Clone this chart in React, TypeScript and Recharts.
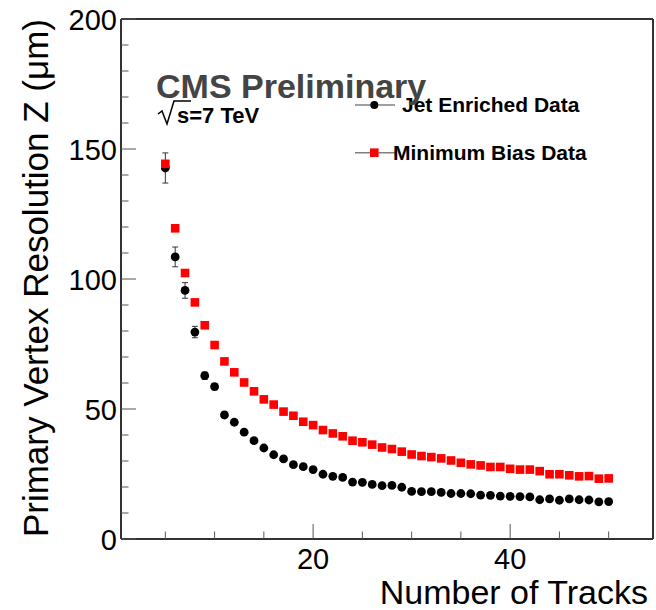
import { ScatterChart, Scatter, XAxis, YAxis, ErrorBar, Legend } from "recharts";

// number of tracks in the vertex fit
const tracks = [
  5, 6, 7, 8, 9, 10, 11, 12, 13, 14, 15, 16, 17, 18, 19, 20, 21, 22, 23, 24, 25, 26, 27,
  28, 29, 30, 31, 32, 33, 34, 35, 36, 37, 38, 39, 40, 41, 42, 43, 44, 45, 46, 47, 48, 49, 50,
];

// resolution in um
const jetResolution = [
  142.7, 108.5, 95.6, 79.6, 62.8, 58.6, 47.7, 44.9, 41.1, 37.8, 35.0, 32.4, 30.8, 28.6, 27.8,
  26.7, 24.9, 24.1, 23.7, 21.9, 21.8, 21.0, 20.5, 20.6, 19.9, 18.3, 18.2, 18.2, 17.9, 17.5,
  17.5, 17.4, 16.9, 16.8, 16.5, 16.4, 16.3, 16.2, 15.1, 15.4, 14.9, 15.4, 15.1, 15.0, 14.3, 14.4,
];
const jetError = [
  5.8, 3.8, 3.0, 2.2, 1.4, 1.2, 1.0, 0.9, 0.8, 0.8, 0.7, 0.7, 0.6, 0.6, 0.6, 0.6, 0.5, 0.5,
  0.5, 0.5, 0.5, 0.5, 0.5, 0.5, 0.5, 0.4, 0.4, 0.4, 0.4, 0.4, 0.4, 0.4, 0.4, 0.4, 0.4, 0.4,
  0.4, 0.4, 0.4, 0.4, 0.4, 0.4, 0.4, 0.4, 0.4, 0.4,
];
const minBiasResolution = [
  144.3, 119.5, 102.3, 91.0, 82.2, 74.6, 68.3, 64.1, 60.2, 56.8, 53.7, 51.7, 49.0, 47.4, 45.1,
  43.8, 41.9, 40.6, 39.5, 37.8, 37.2, 36.3, 35.2, 34.6, 33.6, 32.5, 31.9, 31.5, 31.0, 30.2,
  29.3, 28.7, 28.3, 27.7, 27.7, 27.0, 26.7, 26.7, 26.1, 24.9, 24.9, 24.5, 24.1, 24.2, 23.2, 23.3,
];

const xTicks = [5, 10, 15, 20, 25, 30, 35, 40, 45, 50];
const xLabelled = [20, 40];
const yTicks = [0, 10, 20, 30, 40, 50, 60, 70, 80, 90, 100, 110, 120, 130, 140, 150, 160, 170, 180, 190, 200];
const yLabelled = [0, 50, 100, 150, 200];

const jetData = tracks.map((n, i) => ({ x: n, y: jetResolution[i], err: jetError[i] }));
const minBiasData = tracks.map((n, i) => ({ x: n, y: minBiasResolution[i] }));

const FONT = "'Liberation Sans', Arial, Helvetica, sans-serif";
const TICK = "#555";
const FRAME = { stroke: "#333", strokeWidth: 2 };

function BottomTick({ x, y, payload }: any) {
  const major = xLabelled.includes(payload.value);
  return (
    <g>
      <line x1={x} x2={x} y1={y} y2={y - (major ? 15 : 7.5)} stroke={TICK} />
      {major && (
        <text x={x} y={y + 30} textAnchor="middle" fontSize={29} fontFamily={FONT} fill="#000">
          {payload.value}
        </text>
      )}
    </g>
  );
}

function TopTick({ x, y, payload }: any) {
  const major = xLabelled.includes(payload.value);
  return <line x1={x} x2={x} y1={y} y2={y + (major ? 15 : 7.5)} stroke={TICK} />;
}

function LeftTick({ x, y, payload }: any) {
  const major = yLabelled.includes(payload.value);
  return (
    <g>
      <line x1={x} x2={x + (major ? 15 : 7.5)} y1={y} y2={y} stroke={TICK} />
      {major && (
        <text x={x - 4} y={y + 10.5} textAnchor="end" fontSize={29} fontFamily={FONT} fill="#000">
          {payload.value}
        </text>
      )}
    </g>
  );
}

function RightTick({ x, y, payload }: any) {
  const major = yLabelled.includes(payload.value);
  return <line x1={x} x2={x - (major ? 15 : 7.5)} y1={y} y2={y} stroke={TICK} />;
}

const JetDot = (p: any) => <circle cx={p.cx} cy={p.cy} r={4.4} fill="#000" />;
const MinBiasSquare = (p: any) => (
  <rect x={p.cx - 4.3} y={p.cy - 4.3} width={8.6} height={8.6} fill="#ff0000" />
);

// legend rows, drawn ROOT style: marker on a short grey line
const legendRows = [
  { lineY: 20, textX: 52, textY: 27 },
  { lineY: 67.7, textX: 43, textY: 75 },
];

function renderLegend({ payload }: any) {
  return (
    <svg width={260} height={85}>
      {(payload || []).map((entry: any, i: number) => {
        const row = legendRows[i];
        if (!row) return null;
        return (
          <g key={entry.value}>
            <line x1={5} x2={45} y1={row.lineY} y2={row.lineY} stroke="#808080" strokeWidth={1.5} />
            {i === 0 ? (
              <circle cx={24.3} cy={row.lineY} r={4} fill="#000" />
            ) : (
              <rect x={20} y={row.lineY - 4.3} width={8.6} height={8.6} fill="#ff0000" />
            )}
            <text x={row.textX} y={row.textY} fontSize={21} fontWeight="bold" fontFamily={FONT} fill="#000">
              {entry.value}
            </text>
          </g>
        );
      })}
    </svg>
  );
}

export default function App() {
  return (
    <div style={{ position: "absolute", left: 0, top: 0, width: 656, height: 610, background: "#fff" }}>
      <ScatterChart width={656} height={610} margin={{ top: 0, right: 0, bottom: 0, left: 0 }}>
        <XAxis
          xAxisId="bottom"
          dataKey="x"
          type="number"
          domain={[0.5, 54.5]}
          ticks={xTicks}
          interval={0}
          height={71}
          tickSize={0}
          tickMargin={0}
          tickLine={false}
          axisLine={FRAME}
          tick={BottomTick}
        />
        <XAxis
          xAxisId="top"
          orientation="top"
          type="number"
          domain={[0.5, 54.5]}
          ticks={xTicks}
          interval={0}
          height={19}
          tickSize={0}
          tickMargin={0}
          tickLine={false}
          axisLine={FRAME}
          tick={TopTick}
        />
        <YAxis
          yAxisId="left"
          dataKey="y"
          type="number"
          domain={[0, 200]}
          ticks={yTicks}
          interval={0}
          width={121}
          tickSize={0}
          tickMargin={0}
          tickLine={false}
          axisLine={FRAME}
          tick={LeftTick}
        />
        <YAxis
          yAxisId="right"
          orientation="right"
          type="number"
          domain={[0, 200]}
          ticks={yTicks}
          interval={0}
          width={3}
          tickSize={0}
          tickMargin={0}
          tickLine={false}
          axisLine={FRAME}
          tick={RightTick}
        />
        <Legend
          content={renderLegend}
          layout="horizontal"
          verticalAlign="middle"
          align="center"
          wrapperStyle={{ left: 350, top: 85, width: 260, height: 85 }}
        />
        <Scatter
          name="Jet Enriched Data"
          data={jetData}
          xAxisId="bottom"
          yAxisId="left"
          fill="#000"
          shape={JetDot}
          isAnimationActive={false}
        >
          <ErrorBar dataKey="err" direction="y" width={3} stroke="#333" strokeWidth={1} />
        </Scatter>
        <Scatter
          name="Minimum Bias Data"
          data={minBiasData}
          xAxisId="bottom"
          yAxisId="left"
          fill="#ff0000"
          shape={MinBiasSquare}
          isAnimationActive={false}
        />
      </ScatterChart>

      <svg
        width={656}
        height={610}
        style={{ position: "absolute", left: 0, top: 0, pointerEvents: "none" }}
        fontFamily={FONT}
      >
        <text x={156} y={98} fontSize={34} fontWeight="bold" fill="#444">
          CMS Preliminary
        </text>
        <polyline
          points="158,114 162,111 167,124 174,101 191,101"
          fill="none"
          stroke="#000"
          strokeWidth={1.5}
        />
        <text x={177} y={123} fontSize={22} fontWeight="bold" fill="#000">
          s=7 TeV
        </text>
        <text transform="translate(48,19) rotate(-90)" textAnchor="end" fontSize={35} fill="#000">
          Primary Vertex Resolution Z (μm)
        </text>
        <text x={648} y={604} textAnchor="end" fontSize={34} fill="#000">
          Number of Tracks
        </text>
      </svg>
    </div>
  );
}
